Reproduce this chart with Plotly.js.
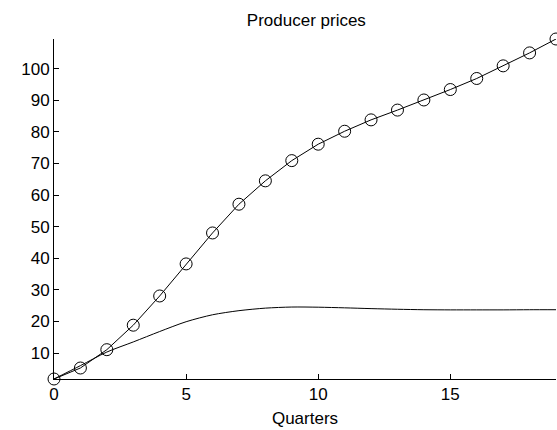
<!DOCTYPE html>
<html>
<head>
<meta charset="utf-8">
<script src="https://cdn.plot.ly/plotly-3.0.1.min.js"></script>
<style>
  html, body { margin: 0; padding: 0; background: #fff; }
  #chart { width: 557px; height: 430px; }
</style>
</head>
<body>
<div id="chart"></div>
<script>
// Quarters after the shock
const quarters = [0, 1, 2, 3, 4, 5, 6, 7, 8, 9, 10, 11, 12, 13, 14, 15, 16, 17, 18, 19];

// Cumulative producer price response (marked with circles)
const pricesCumulative = [1.77, 5.25, 11.05, 18.8, 28.05, 38.2, 48.0, 57.1, 64.5, 70.9,
                          76.1, 80.2, 83.8, 86.9, 90.1, 93.4, 96.9, 100.9, 105.0, 109.4];

// Smooth producer price response
const pricesLevel = [1.77, 6.0, 10.3, 13.5, 16.8, 19.9, 22.1, 23.4, 24.2, 24.55,
                     24.5, 24.3, 24.05, 23.85, 23.7, 23.65, 23.65, 23.65, 23.7, 23.7];

const xTicks = [0, 5, 10, 15];
const yTicks = [10, 20, 30, 40, 50, 60, 70, 80, 90, 100];

const font = { family: 'Liberation Sans, Arial, sans-serif', size: 17, color: '#000' };

const traces = [
  {
    x: quarters, y: pricesLevel,
    type: 'scatter', mode: 'lines',
    line: { color: '#000', width: 1, shape: 'spline', smoothing: 0.8 },
    hoverinfo: 'skip'
  },
  {
    x: quarters, y: pricesCumulative,
    type: 'scatter', mode: 'lines+markers',
    line: { color: '#000', width: 1 },
    marker: { symbol: 'circle-open', size: 12, color: '#000', line: { width: 1, color: '#000' } },
    cliponaxis: false
  }
];

const layout = {
  width: 557, height: 430,
  margin: { l: 54, r: 1, t: 39, b: 51 },
  paper_bgcolor: '#fff', plot_bgcolor: '#fff',
  showlegend: false,
  font: font,
  title: { text: 'Producer prices', font: font, x: 0.55, xanchor: 'center', y: 0.953, yanchor: 'middle' },
  xaxis: {
    range: [0, 19],
    tickvals: xTicks, ticktext: xTicks.map(String),
    ticks: 'inside', ticklen: 5, tickcolor: '#000', tickwidth: 1,
    showline: true, linecolor: '#000', linewidth: 1,
    showgrid: false, zeroline: false,
    tickfont: font,
    title: { text: 'Quarters', font: font, standoff: 8 }
  },
  yaxis: {
    range: [1.77, 109.4],
    tickvals: yTicks, ticktext: yTicks.map(String),
    ticks: 'inside', ticklen: 5, tickcolor: '#000', tickwidth: 1,
    showline: true, linecolor: '#000', linewidth: 1,
    showgrid: false, zeroline: false,
    tickfont: font
  }
};

Plotly.newPlot('chart', traces, layout, { displayModeBar: false, staticPlot: true });
</script>
</body>
</html>
